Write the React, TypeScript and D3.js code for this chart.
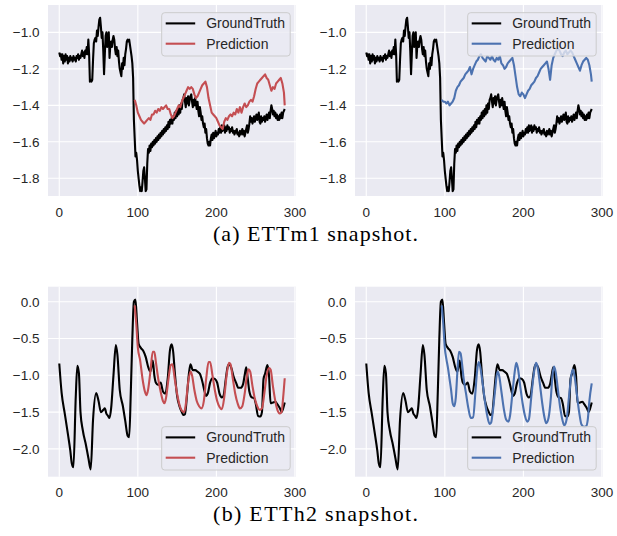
import React from "react";
import * as d3 from "d3";

// ETTm1 ground truth, index = time step (0..287)
const ettm1Truth: number[] = [
  -1.11, -1.13, -1.12, -1.15, -1.12, -1.17, -1.13, -1.16, -1.12, -1.15,
  -1.13, -1.17, -1.14, -1.16, -1.13, -1.15, -1.14, -1.16, -1.13, -1.15,
  -1.14, -1.16, -1.13, -1.14, -1.12, -1.15, -1.13, -1.14, -1.12, -1.10,
  -1.13, -1.11, -1.14, -1.10, -1.12, -1.08, -1.12, -1.04, -1.12, -1.27,
  -1.26, -1.27, -1.26, -1.15, -1.06, -1.04, -1.03, -1.05, -0.99, -1.02,
  -0.97, -0.93, -0.92, -0.97, -1.03, -1.00, -1.10, -1.23, -1.12, -1.02,
  -1.00, -1.08, -1.03, -1.00, -1.14, -1.07, -1.05, -1.08, -1.04, -1.02,
  -1.04, -1.09, -1.12, -1.08, -1.13, -1.10, -1.16, -1.20, -1.22, -1.24,
  -1.17, -1.20, -1.14, -1.18, -1.12, -1.09, -1.05, -1.04, -1.05, -1.04,
  -1.07, -1.10, -1.13, -1.17, -1.25, -1.48, -1.58, -1.68, -1.66, -1.70,
  -1.76, -1.80, -1.84, -1.87, -1.85, -1.87, -1.82, -1.76, -1.74, -1.80,
  -1.87, -1.86, -1.72, -1.64, -1.66, -1.62, -1.65, -1.61, -1.63, -1.60,
  -1.62, -1.59, -1.61, -1.58, -1.60, -1.57, -1.59, -1.56, -1.58, -1.55,
  -1.57, -1.54, -1.56, -1.53, -1.55, -1.52, -1.54, -1.51, -1.53, -1.49,
  -1.52, -1.48, -1.50, -1.47, -1.50, -1.46, -1.48, -1.44, -1.47, -1.43,
  -1.46, -1.42, -1.45, -1.40, -1.44, -1.39, -1.42, -1.37, -1.36, -1.34,
  -1.38, -1.41, -1.36, -1.39, -1.35, -1.40, -1.37, -1.35, -1.34, -1.38,
  -1.41, -1.37, -1.40, -1.36, -1.39, -1.42, -1.38, -1.43, -1.46, -1.41,
  -1.44, -1.48, -1.46, -1.50, -1.52, -1.50, -1.55, -1.53, -1.58, -1.61,
  -1.62, -1.60, -1.62, -1.58, -1.56, -1.59, -1.55, -1.58, -1.56, -1.54,
  -1.57, -1.55, -1.56, -1.53, -1.55, -1.52, -1.55, -1.51, -1.54, -1.52,
  -1.51, -1.55, -1.52, -1.54, -1.51, -1.53, -1.52, -1.55, -1.53, -1.54,
  -1.52, -1.55, -1.54, -1.56, -1.54, -1.55, -1.53, -1.56, -1.55, -1.57,
  -1.54, -1.56, -1.55, -1.53, -1.56, -1.54, -1.57, -1.55, -1.53, -1.51,
  -1.55, -1.53, -1.50, -1.46, -1.49, -1.47, -1.50, -1.48, -1.46, -1.49,
  -1.47, -1.45, -1.48, -1.46, -1.44, -1.49, -1.50, -1.46, -1.49, -1.47,
  -1.48, -1.46, -1.49, -1.47, -1.45, -1.48, -1.46, -1.44, -1.47, -1.43,
  -1.40, -1.42, -1.45, -1.43, -1.46, -1.44, -1.47, -1.45, -1.48, -1.46,
  -1.48, -1.45, -1.47, -1.44, -1.47, -1.44, -1.43, -1.42,
];

// ETTm1 predictions [step, value]
const ettm1PredRed: [number, number][] = [
  [96, -1.37], [98, -1.40], [100, -1.44], [102, -1.46], [104, -1.48], [106, -1.49], [108, -1.50],
  [110, -1.49], [112, -1.48], [114, -1.47], [116, -1.48], [118, -1.45], [120, -1.45], [122, -1.43],
  [124, -1.44], [126, -1.42], [128, -1.43], [130, -1.41], [132, -1.42], [134, -1.41], [136, -1.40],
  [138, -1.42], [140, -1.42], [142, -1.45], [144, -1.47], [146, -1.46], [148, -1.44], [150, -1.42],
  [152, -1.40], [154, -1.41], [156, -1.38], [158, -1.36], [160, -1.34], [162, -1.32], [164, -1.30],
  [166, -1.31], [168, -1.30], [170, -1.31], [172, -1.34], [174, -1.36], [176, -1.35], [178, -1.33],
  [180, -1.31], [182, -1.29], [184, -1.28], [186, -1.27], [188, -1.30], [190, -1.36], [192, -1.40],
  [194, -1.44], [196, -1.45], [198, -1.46], [200, -1.47], [202, -1.49], [204, -1.51], [206, -1.52],
  [208, -1.53], [210, -1.49], [212, -1.47], [214, -1.48], [216, -1.46], [218, -1.45], [220, -1.46],
  [222, -1.44], [224, -1.45], [226, -1.42], [228, -1.44], [230, -1.41], [232, -1.44], [234, -1.41],
  [236, -1.39], [238, -1.41], [240, -1.40], [242, -1.38], [244, -1.37], [246, -1.38], [248, -1.35],
  [250, -1.31], [252, -1.28], [254, -1.27], [256, -1.26], [258, -1.25], [260, -1.24], [262, -1.23],
  [264, -1.25], [266, -1.26], [268, -1.29], [270, -1.32], [272, -1.30], [274, -1.31], [276, -1.28],
  [278, -1.27], [280, -1.26], [282, -1.25], [284, -1.28], [286, -1.33], [287, -1.40],
];

const ettm1PredBlue: [number, number][] = [
  [96, -1.37], [98, -1.38], [100, -1.38], [102, -1.39], [104, -1.38], [106, -1.40], [108, -1.39],
  [110, -1.38], [112, -1.36], [114, -1.32], [116, -1.30], [118, -1.29], [120, -1.27], [122, -1.26],
  [124, -1.25], [126, -1.23], [128, -1.22], [130, -1.21], [132, -1.19], [134, -1.23], [136, -1.20],
  [138, -1.18], [140, -1.16], [142, -1.15], [144, -1.13], [146, -1.12], [148, -1.14], [150, -1.15],
  [152, -1.16], [154, -1.13], [156, -1.14], [158, -1.15], [160, -1.13], [162, -1.15], [164, -1.16],
  [166, -1.14], [168, -1.15], [170, -1.13], [172, -1.17], [174, -1.18], [176, -1.20], [178, -1.19],
  [180, -1.17], [182, -1.16], [184, -1.15], [186, -1.14], [188, -1.18], [190, -1.24], [192, -1.30],
  [194, -1.34], [196, -1.35], [198, -1.33], [200, -1.34], [202, -1.36], [204, -1.34], [206, -1.32],
  [208, -1.31], [210, -1.29], [212, -1.28], [214, -1.27], [216, -1.25], [218, -1.24], [220, -1.22],
  [222, -1.20], [224, -1.19], [226, -1.18], [228, -1.17], [230, -1.16], [232, -1.20], [234, -1.26],
  [236, -1.18], [238, -1.14], [240, -1.12], [242, -1.10], [244, -1.09], [246, -1.10], [248, -1.12],
  [250, -1.13], [252, -1.11], [254, -1.10], [256, -1.12], [258, -1.11], [260, -1.10], [262, -1.11],
  [264, -1.13], [266, -1.15], [268, -1.17], [270, -1.19], [272, -1.21], [274, -1.18], [276, -1.16],
  [278, -1.15], [280, -1.14], [282, -1.15], [284, -1.18], [286, -1.23], [287, -1.27],
];

// ETTh2 ground truth [step, value]
const etth2Truth: [number, number][] = [
  [0, -0.84], [3, -1.24], [7, -1.52], [11, -1.8], [14, -2.02], [16, -2.2], [18, -2.25], [21, -1.29],
  [23, -0.87], [25, -0.97], [27, -1.5], [30, -1.75], [34, -1.95], [37, -2.12], [40, -2.28], [43, -1.6],
  [47, -1.24], [50, -1.35], [53, -1.5], [56, -1.47], [58, -1.45], [60, -1.52], [62, -1.55], [64, -1.58],
  [66, -1.45], [69, -1.0], [72, -0.59], [74, -0.72], [77, -1.2], [81, -1.42], [84, -1.62], [87, -1.82],
  [89, -1.84], [91, -1.25], [93, -0.5], [95, 0.0], [97, 0.03], [99, -0.28], [101, -0.57], [104, -0.63],
  [107, -0.67], [110, -0.75], [113, -0.88], [116, -0.95], [119, -0.8], [121, -1.0], [123, -1.1],
  [126, -1.13], [129, -1.1], [132, -1.22], [135, -1.25], [138, -1.05], [141, -0.65], [143, -0.58],
  [145, -0.68], [147, -0.95], [150, -1.28], [153, -1.42], [156, -1.5], [158, -1.54], [160, -1.53],
  [163, -1.22], [165, -0.98], [167, -0.85], [170, -0.93], [173, -0.93], [176, -0.95], [179, -0.98],
  [182, -1.08], [185, -1.22], [187, -1.28], [189, -1.25], [192, -1.1], [195, -1.04], [198, -1.05],
  [201, -1.1], [204, -1.25], [207, -1.3], [209, -1.28], [212, -1.05], [214, -0.9], [216, -0.85],
  [219, -0.9], [222, -1.02], [225, -1.1], [228, -1.17], [231, -1.17], [234, -1.12], [236, -1.0],
  [238, -0.89], [240, -1.05], [242, -1.22], [245, -1.3], [248, -1.31], [250, -1.38], [253, -1.55],
  [256, -1.56], [258, -1.5], [260, -1.05], [262, -0.98], [265, -0.86], [267, -1.0], [269, -1.38],
  [272, -1.37], [275, -1.36], [278, -1.4], [281, -1.45], [283, -1.5], [285, -1.45], [287, -1.37],
];

const etth2PredRed: [number, number][] = [
  [96, -0.05], [98, -0.3], [100, -0.62], [103, -0.8], [106, -1.05], [109, -1.22], [111, -1.27],
  [113, -1.2], [116, -0.95], [119, -0.68], [121, -0.68], [123, -0.82], [126, -1.05], [129, -1.22],
  [132, -1.35], [134, -1.38], [136, -1.3], [139, -1.05], [142, -0.86], [144, -0.85], [147, -1.05],
  [150, -1.25], [153, -1.4], [156, -1.48], [159, -1.5], [161, -1.4], [164, -1.1], [167, -0.95],
  [169, -1.0], [172, -1.2], [175, -1.35], [178, -1.42], [181, -1.45], [184, -1.35], [187, -1.05],
  [190, -0.82], [192, -0.82], [195, -1.0], [198, -1.2], [201, -1.35], [204, -1.43], [207, -1.46],
  [210, -1.3], [213, -1.0], [216, -0.83], [218, -0.85], [221, -1.05], [224, -1.25], [227, -1.38],
  [230, -1.45], [233, -1.42], [236, -1.25], [239, -1.0], [241, -0.92], [243, -0.95], [246, -1.15],
  [249, -1.32], [252, -1.42], [255, -1.47], [258, -1.45], [261, -1.25], [264, -1.0], [267, -0.9],
  [269, -0.92], [272, -1.15], [275, -1.35], [278, -1.48], [281, -1.52], [283, -1.5], [285, -1.3],
  [287, -1.04],
];

const etth2PredBlue: [number, number][] = [
  [96, -0.05], [98, -0.3], [100, -0.63], [102, -0.78], [104, -0.9], [106, -1.05], [108, -1.2],
  [110, -1.38], [112, -1.42], [114, -1.3], [116, -0.95], [118, -0.68], [120, -0.7], [122, -0.85],
  [124, -1.05], [127, -1.25], [130, -1.45], [133, -1.58], [136, -1.57], [139, -1.22], [141, -0.95],
  [143, -0.82], [145, -0.88], [148, -1.1], [151, -1.35], [154, -1.55], [157, -1.66], [159, -1.64],
  [161, -1.5], [164, -1.2], [167, -0.95], [169, -1.0], [172, -1.22], [175, -1.45], [178, -1.6],
  [181, -1.63], [183, -1.55], [186, -1.25], [189, -0.95], [191, -0.83], [193, -0.9], [196, -1.15],
  [199, -1.38], [202, -1.55], [205, -1.63], [207, -1.6], [210, -1.3], [213, -1.0], [216, -0.83],
  [218, -0.88], [221, -1.12], [224, -1.38], [227, -1.58], [229, -1.65], [232, -1.58], [235, -1.3],
  [237, -1.0], [239, -0.88], [241, -0.95], [244, -1.2], [247, -1.45], [250, -1.62], [252, -1.68],
  [255, -1.6], [258, -1.3], [261, -1.0], [263, -0.92], [265, -1.0], [268, -1.25], [271, -1.5],
  [274, -1.67], [277, -1.7], [280, -1.69], [282, -1.6], [284, -1.35], [287, -1.11],
];

const xTicks = [0, 100, 200, 300];
const ettm1YTicks = [-1.0, -1.2, -1.4, -1.6, -1.8];
const etth2YTicks = [0.0, -0.5, -1.0, -1.5, -2.0];
const legendLabels = ["GroundTruth", "Prediction"];
const captions = ["(a) ETTm1 snapshot.", "(b) ETTh2 snapshot."];

const RED = "#C44E52";
const BLUE = "#4C72B0";
const BG = "#EAEAF2";
const TXT = "#262626";
const SANS = "'Liberation Sans', Arial, sans-serif";
const SERIF = "'Liberation Serif', 'Times New Roman', serif";

type PanelProps = {
  left: number;
  top: number;
  width: number;
  height: number;
  yDomain: [number, number];
  yTicks: number[];
  truth: [number, number][];
  pred: [number, number][];
  predColor: string;
  legendTop: number;
  legendDx: number;
  smooth: boolean;
};

function Panel(p: PanelProps) {
  const x = d3.scaleLinear().domain([-14.35, 301.35]).range([p.left, p.left + p.width]);
  const y = d3.scaleLinear().domain(p.yDomain).range([p.top + p.height, p.top]);
  const line = d3
    .line<[number, number]>()
    .x((d) => x(d[0]))
    .y((d) => y(d[1]))
    .curve(p.smooth ? d3.curveMonotoneX : d3.curveLinear);
  const fmt = d3.format(".1f");
  const lx = p.left + p.legendDx;
  const lw = 128.5;
  const lh = 43.3;
  return (
    <g>
      <rect x={p.left} y={p.top} width={p.width} height={p.height} fill={BG} />
      {xTicks.map((t) => (
        <line key={"gx" + t} x1={x(t)} x2={x(t)} y1={p.top} y2={p.top + p.height} stroke="#fff" strokeWidth={1.1} />
      ))}
      {p.yTicks.map((t) => (
        <line key={"gy" + t} x1={p.left} x2={p.left + p.width} y1={y(t)} y2={y(t)} stroke="#fff" strokeWidth={1.1} />
      ))}
      {xTicks.map((t) => (
        <text key={"tx" + t} x={x(t)} y={p.top + p.height + 20.5} textAnchor="middle" fontFamily={SANS} fontSize={13.5} fill={TXT}>
          {t}
        </text>
      ))}
      {p.yTicks.map((t) => (
        <text key={"ty" + t} x={p.left - 8.5} y={y(t) + 4.8} textAnchor="end" fontFamily={SANS} fontSize={13.5} fill={TXT}>
          {fmt(t).replace("-", "\u2212")}
        </text>
      ))}
      <path d={line(p.truth) || ""} fill="none" stroke="#000" strokeWidth={2.1} strokeLinejoin="round" />
      <path d={line(p.pred) || ""} fill="none" stroke={p.predColor} strokeWidth={2.1} strokeLinejoin="round" />
      <rect x={lx} y={p.legendTop} width={lw} height={lh} rx={3} fill={BG} fillOpacity={0.8} stroke="#cccccc" strokeWidth={1} />
      {legendLabels.map((lab, i) => {
        const cy = p.legendTop + 10.7 + i * 20.3;
        return (
          <g key={lab}>
            <line x1={lx + 4} x2={lx + 33.5} y1={cy} y2={cy} stroke={i === 0 ? "#000" : p.predColor} strokeWidth={2.1} />
            <text x={lx + 44.5} y={cy + 5} fontFamily={SANS} fontSize={14} fill={TXT}>
              {lab}
            </text>
          </g>
        );
      })}
    </g>
  );
}

export default function App() {
  const ettm1TruthPts: [number, number][] = ettm1Truth.map((v, i) => [i, v]);
  const topDomain: [number, number] = [-1.897, -0.85];
  const botDomain: [number, number] = [-2.378, 0.204];
  return (
    <svg width={617} height={536} style={{ position: "absolute", left: 0, top: 0, background: "#fff" }}>
      <Panel left={48} top={5} width={248} height={191} yDomain={topDomain} yTicks={ettm1YTicks}
        truth={ettm1TruthPts} pred={ettm1PredRed} predColor={RED} legendTop={12.7} legendDx={113.7} smooth={false} />
      <Panel left={355} top={5} width={248} height={191} yDomain={topDomain} yTicks={ettm1YTicks}
        truth={ettm1TruthPts} pred={ettm1PredBlue} predColor={BLUE} legendTop={12.7} legendDx={112.7} smooth={false} />
      <Panel left={48} top={286.7} width={248} height={190} yDomain={botDomain} yTicks={etth2YTicks}
        truth={etth2Truth} pred={etth2PredRed} predColor={RED} legendTop={426.7} legendDx={113.7} smooth={true} />
      <Panel left={355} top={286.7} width={248} height={190} yDomain={botDomain} yTicks={etth2YTicks}
        truth={etth2Truth} pred={etth2PredBlue} predColor={BLUE} legendTop={426.7} legendDx={112.7} smooth={true} />
      <text x={315.5} y={241} textAnchor="middle" fontFamily={SERIF} fontSize={22} textLength={205} lengthAdjust="spacing" fill="#000">
        {captions[0]}
      </text>
      <text x={315.5} y={521} textAnchor="middle" fontFamily={SERIF} fontSize={22} textLength={205} lengthAdjust="spacing" fill="#000">
        {captions[1]}
      </text>
    </svg>
  );
}
